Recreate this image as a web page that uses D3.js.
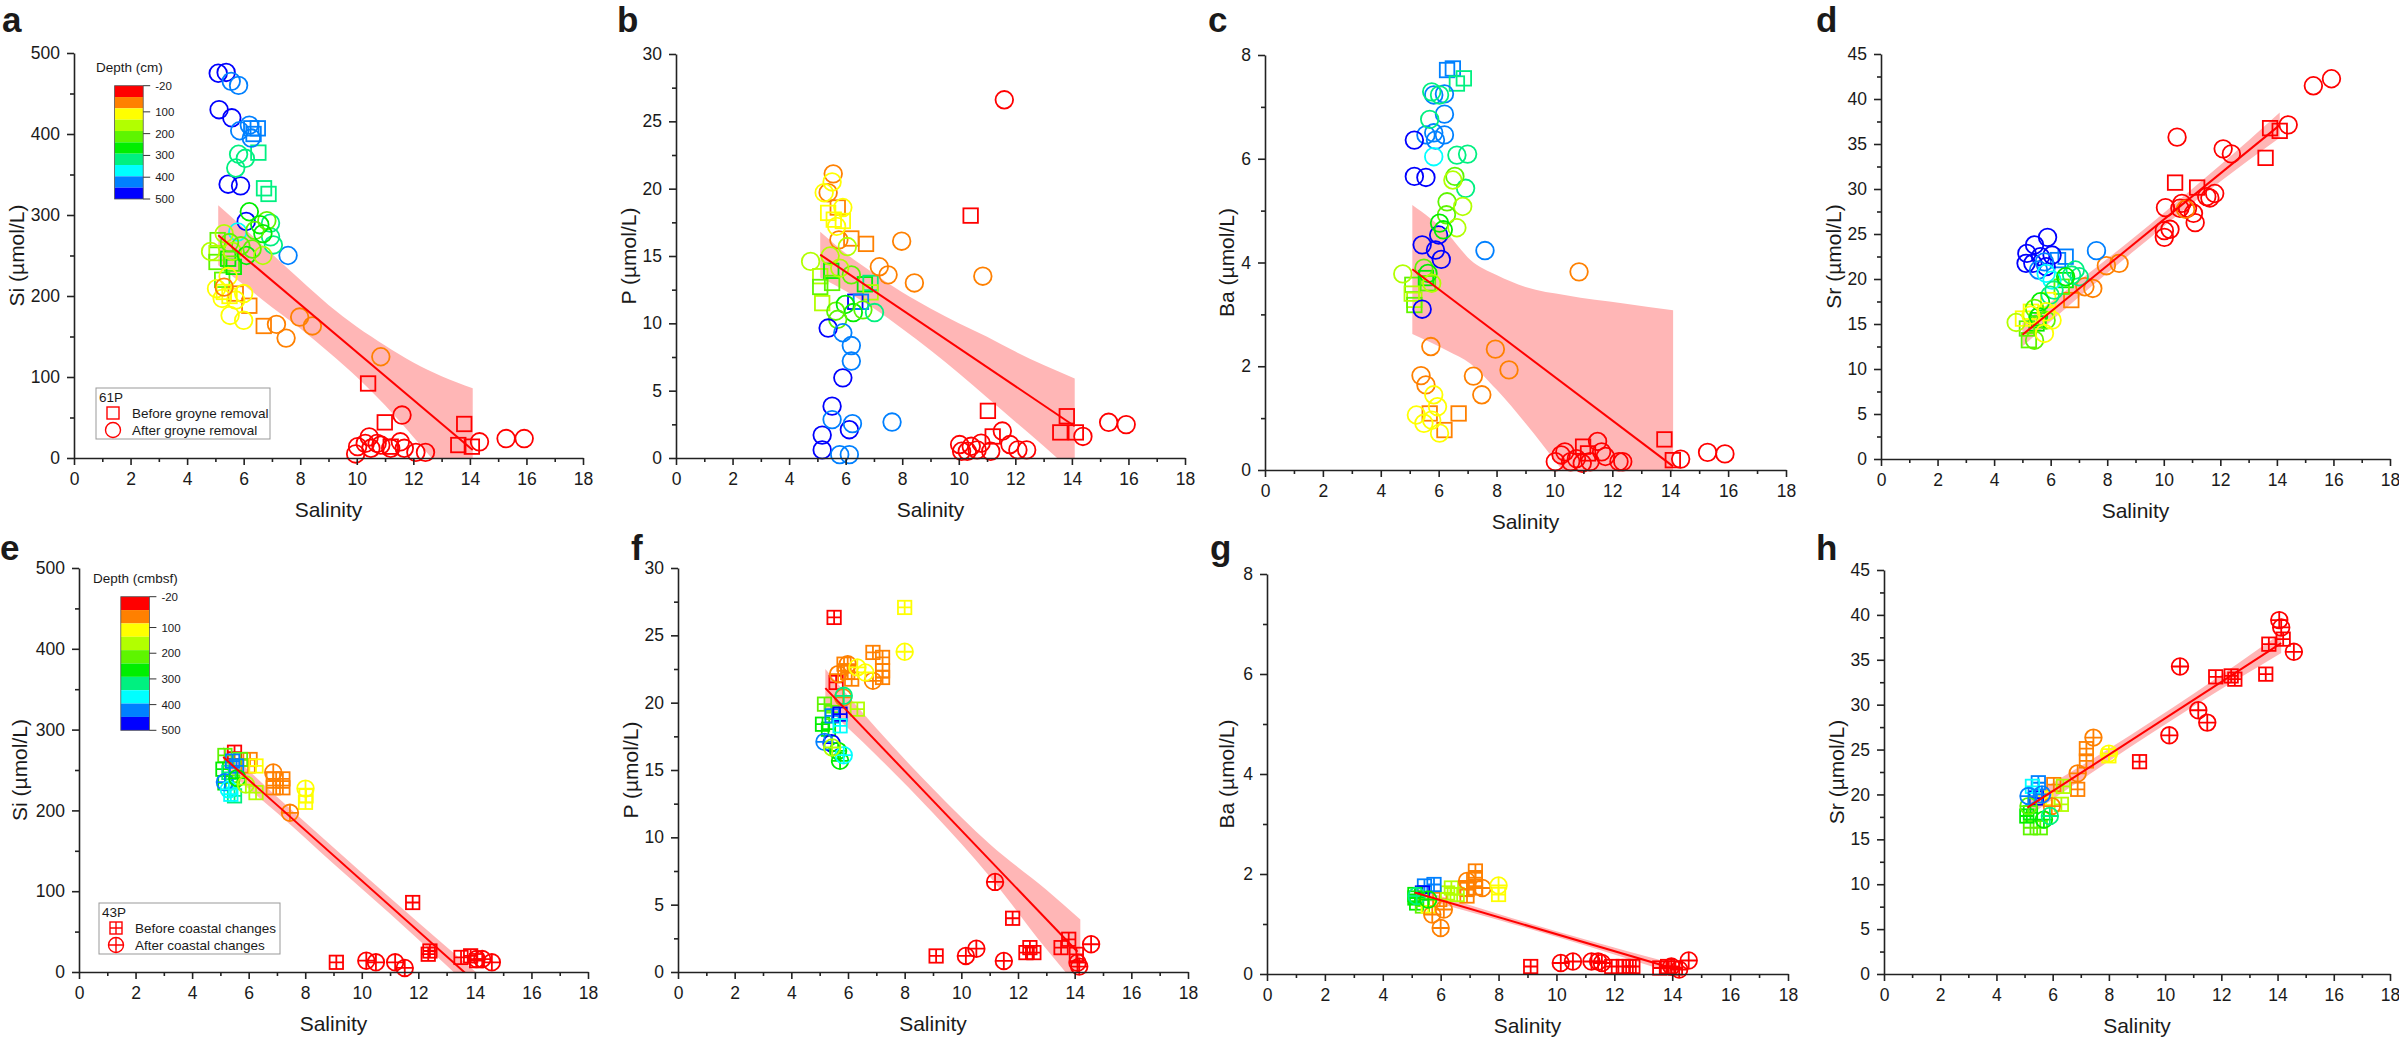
<!DOCTYPE html>
<html>
<head>
<meta charset="utf-8">
<script src="https://cdn.jsdelivr.net/npm/d3@7"></script>
<style>
  body { margin: 0; background: #fff; }
  svg text { font-family: "Liberation Sans", Arial, sans-serif; fill: #1a1a1a; }
</style>
</head>
<body>
<div id="chart"></div>
<script>
// ---- shared scales / ticks ----
var salinityTicks = [0, 2, 4, 6, 8, 10, 12, 14, 16, 18];
var depthTicks = [-20, 100, 200, 300, 400, 500];
var depthBreaks = [32, 84, 136, 188, 240, 292, 344, 396, 448];
var depthColors = ["#ff0000", "#ff8000", "#ffff00", "#b2ff00", "#5ef500", "#00ee00", "#00f080", "#00ffff", "#0080ff", "#0000ff"];

// ---- core 61P : [salinity, value, depth (cm)] ----
var siBefore61P = [
  [6.27,407,425],[6.5,407,425],[6.35,400,425],[6.52,377,325],[6.72,333,325],[6.88,326,325],
  [5.08,269,225],[5.04,253,175],[5.04,242,225],[5.45,246,275],[5.58,240,225],[5.24,220,225],[5.65,236,275],
  [5.72,203,70],[6.2,188,70],[6.71,163,70],[5.5,200,125],[5.3,205,125],
  [10.4,92,10],[10.99,44,10],[13.8,42,10],[13.59,16,10],[14.07,14,10],[11.2,14,10]
];
var siAfter61P = [
  [5.1,475,475],[5.38,476,475],[5.13,430,475],[5.58,420,475],[5.45,338,475],[5.89,336,475],[6.09,292,475],
  [5.56,465,425],[5.82,460,425],[5.86,404,425],[6.2,411,425],[6.27,395,425],[7.57,250,425],[5.79,279,375],
  [5.82,375,325],[6.06,370,325],[5.72,358,325],[6.95,290,325],[6.95,273,325],[7.05,263,325],
  [6.2,304,275],[6.82,293,225],[6.57,288,275],[6.4,281,225],[6.68,277,275],
  [4.83,255,175],[5.31,277,175],[5.9,262,225],[5.6,255,175],[6.1,250,275],[6.68,250,175],[5.5,266,225],[6.3,258,225],
  [5.45,224,125],[5.04,209,125],[5.24,197,125],[5.52,176,125],[6.0,170,125],[5.72,195,125],[6.0,203,125],
  [5.31,211,70],[7.16,165,70],[7.5,148,70],[7.98,174,70],[8.43,163,70],[10.85,125,70],
  [11.6,53,10],[14.34,20,10],[15.28,24,10],[15.92,24,10],[10.03,14,10],[10.3,18,10],[10.44,26,10],[10.72,18,10],
  [10.85,16,10],[11.2,12,10],[11.54,20,10],[11.68,12,10],[12.09,7,10],[12.43,7,10],[9.96,5,10],[10.5,12,10]
];
var pBefore61P = [
  [10.42,18.0,10],[11.03,3.5,10],[13.82,3.1,10],[13.59,1.9,10],[14.14,1.9,10],[11.2,1.6,10],
  [5.72,18.6,70],[6.2,16.3,70],[6.72,15.9,70],[5.38,18.2,125],[5.58,17.7,125],[5.9,17.6,125],
  [5.1,13.5,175],[5.1,12.7,225],[5.17,11.5,175],[5.49,13.9,275],[5.52,13.0,225],[6.68,12.9,275],[6.88,13.0,325],[6.88,12.3,175],
  [6.34,11.6,475],[6.54,11.6,425]
];
var pAfter61P = [
  [11.61,26.6,10],[15.3,2.65,10],[15.92,2.48,10],[14.39,1.6,10],[11.54,2.0,10],[11.81,1.0,10],[12.09,0.6,10],[12.4,0.6,10],
  [10.03,1.0,10],[10.1,0.5,10],[10.44,0.87,10],[10.79,1.1,10],[10.65,0.6,10],[11.13,0.5,10],[10.3,0.5,10],
  [7.98,16.1,70],[7.19,14.2,70],[7.5,13.6,70],[8.43,13.0,70],[10.85,13.5,70],[5.56,21.1,70],[5.38,19.7,70],[5.76,16.2,70],
  [5.24,19.7,125],[5.52,20.5,125],[5.9,18.6,125],[5.68,17.2,125],[6.06,15.7,175],[4.76,14.6,175],[5.45,15.0,175],
  [5.65,10.9,225],[5.99,11.4,275],[6.27,10.8,275],[6.61,11.0,225],[7.02,10.8,325],[5.72,10.3,225],[6.2,13.6,225],[5.79,14.1,175],
  [5.38,9.65,475],[5.17,1.7,475],[5.17,0.6,475],[5.52,3.85,475],[5.9,5.95,475],[6.13,2.1,475],
  [5.9,9.3,425],[6.2,8.35,425],[6.2,7.2,425],[5.52,2.85,425],[6.24,2.55,425],[7.64,2.67,425],[5.79,0.25,425],[6.13,0.25,425]
];
var baBefore61P = [
  [6.29,7.71,425],[6.49,7.74,425],[6.87,7.55,325],[6.63,7.45,325],
  [5.09,3.57,225],[5.16,3.28,175],[5.16,3.18,225],[5.56,3.7,275],[5.63,3.6,225],[5.07,3.4,175],
  [5.69,1.09,70],[6.69,1.09,70],[6.2,0.77,70],
  [13.8,0.59,10],[14.09,0.19,10],[10.99,0.45,10],[11.16,0.32,10]
];
var baAfter61P = [
  [5.83,7.23,425],[6.2,7.25,425],[6.2,6.86,425],[5.56,6.46,425],[5.83,6.5,425],[6.2,6.46,425],[5.89,6.36,425],[7.6,4.23,425],
  [5.83,6.04,375],[5.76,7.29,325],[6.03,7.23,325],[5.69,6.76,325],[6.63,6.07,325],[7.0,6.09,325],[6.93,5.43,325],
  [5.16,6.36,475],[5.16,5.66,475],[5.56,5.64,475],[5.43,3.1,475],[6.0,4.53,475],[5.43,4.34,475],[5.89,4.24,475],[6.09,4.06,475],
  [6.56,5.66,225],[6.49,5.59,175],[6.29,5.17,225],[6.83,5.08,175],[6.27,4.92,225],[6.03,4.76,275],[6.63,4.67,175],[6.16,4.63,275],
  [4.76,3.78,175],[5.49,3.89,225],[5.63,3.79,275],[5.76,3.6,175],
  [5.73,2.38,70],[7.96,2.33,70],[8.43,1.93,70],[5.39,1.82,70],[5.56,1.64,70],[7.2,1.81,70],[7.49,1.45,70],[10.85,3.82,70],
  [5.83,1.45,125],[5.23,1.06,125],[5.49,0.9,125],[5.96,1.22,125],[6.03,0.71,125],[5.76,0.96,125],
  [11.49,0.55,10],[11.63,0.35,10],[11.76,0.26,10],[12.23,0.16,10],[12.36,0.16,10],[14.36,0.21,10],[15.29,0.34,10],[15.89,0.31,10],
  [10.03,0.16,10],[10.23,0.29,10],[10.36,0.35,10],[10.56,0.16,10],[10.76,0.22,10],[10.96,0.13,10],[11.23,0.16,10]
];
var srBefore61P = [
  [13.76,36.76,10],[14.1,36.46,10],[13.6,33.46,10],[10.4,30.71,10],[11.18,30.16,10],[6.73,17.66,70],
  [6.53,22.48,425],[6.26,22.1,425],[6.53,19.88,275],[6.39,19.14,225],[5.57,15.43,275],[5.5,15.06,275],[5.16,14.5,225],[5.23,13.2,225],
  [5.91,17.66,125],[5.3,16.36,125],[5.02,15.6,125]
];
var srAfter61P = [
  [15.93,42.25,10],[15.29,41.47,10],[14.4,37.13,10],[10.47,35.76,10],[12.1,34.46,10],[12.39,33.9,10],[10.06,27.93,10],[10.02,25.37,10],
  [10.22,25.52,10],[10.02,24.63,10],[10.64,28.4,10],[10.84,27.86,10],[11.05,27.3,10],[11.11,26.26,10],[11.52,29.15,10],[11.8,29.5,10],
  [11.63,29.0,10],[10.57,27.86,10],
  [7.97,21.48,70],[8.42,21.74,70],[7.21,19.14,70],[7.49,18.95,70],[10.77,27.75,70],
  [5.89,24.63,475],[5.43,23.78,475],[5.16,22.85,475],[5.13,21.74,475],[5.37,21.74,475],[5.64,22.48,475],[6.05,22.66,475],[5.84,21.37,475],
  [7.62,23.15,425],[5.57,21.0,425],[5.78,21.9,425],[5.84,20.62,375],[6.05,19.88,375],
  [6.87,21.0,325],[6.74,20.44,325],[7.01,20.25,325],[6.12,18.77,325],[5.98,18.21,325],
  [6.53,20.25,275],[5.64,17.47,275],[5.43,16.73,225],[5.57,15.8,275],[5.84,15.43,225],[4.78,15.17,175],[5.43,13.2,225],
  [5.78,13.95,125],[6.05,15.43,125],[5.84,16.36,125],[5.3,15.99,125]
];

// ---- core 43P ----
var siBefore43P = [
  [5.5,272,10],[11.8,86,10],[12.41,26,10],[12.35,22,10],[13.51,18,10],[13.85,20,10],[14.06,14,10],[9.1,12,10],
  [6.05,263,70],[6.87,239,70],[7.21,239,70],[6.87,228,70],[7.21,228,70],[5.98,255,70],
  [8.01,210,125],[8.03,218,125],[6.26,255,125],
  [5.16,268,225],[5.09,251,275],[5.43,235,225],[6.26,222,175],[5.16,234,275],[5.71,263,225],[5.5,218,325],[5.3,247,325],
  [5.43,261,425],[5.57,255,425],[5.37,220,375]
];
var siAfter43P = [
  [10.16,14,10],[10.5,12,10],[11.18,12,10],[11.52,5,10],[14.06,16,10],[14.26,16,10],[14.6,12,10],
  [6.87,247,70],[7.46,197,70],[8.01,227,125],[5.16,235,425],[5.3,226,375],[5.6,240,275],[5.9,232,175]
];
var pBefore43P = [
  [5.51,26.33,10],[11.81,3.99,10],[12.42,1.81,10],[12.56,1.44,10],[12.28,1.44,10],[13.52,1.81,10],[13.79,2.43,10],[14.06,1.31,10],
  [9.11,1.19,10],[5.58,21.5,10],[8.0,27.07,125],
  [6.88,23.73,70],[7.22,23.36,70],[7.22,22.37,70],[7.22,21.87,70],[5.86,22.86,70],[5.99,22.24,70],[6.13,21.75,70],
  [6.33,19.52,175],[5.17,19.89,225],[5.1,18.4,275],[5.44,19.27,225],[5.31,18.03,275],
  [5.44,19.02,425],[5.72,19.15,475],[5.72,18.28,375]
];
var pAfter43P = [
  [11.19,6.69,10],[10.16,1.19,10],[10.53,1.73,10],[11.5,0.82,10],[14.58,2.06,10],[14.1,0.69,10],[14.16,0.4,10],
  [8.0,23.78,125],[6.88,21.62,70],[5.65,22.12,70],[5.83,20.39,70],[5.99,22.86,70],[6.33,22.62,125],[6.61,22.24,125],
  [5.85,20.51,325],[5.42,16.99,475],[5.17,17.09,425],[5.65,16.42,275],[5.72,15.68,275],[5.85,16.1,375],[5.44,16.67,175]
];
var baBefore43P = [
  [7.2,2.06,70],[7.2,1.89,70],[7.2,1.72,70],[6.91,1.69,70],[6.91,1.56,70],[5.97,1.49,70],[8.0,1.59,125],
  [6.37,1.72,175],[6.57,1.59,175],[6.24,1.62,175],[5.44,1.76,425],[5.77,1.79,425],[5.37,1.62,475],
  [5.11,1.59,275],[5.17,1.42,275],[5.37,1.36,225],[5.11,1.52,275],[5.57,1.36,125],
  [9.11,0.15,10],[12.31,0.15,10],[12.51,0.15,10],[12.64,0.15,10],[11.91,0.15,10],[13.57,0.12,10],[13.84,0.15,10],[14.11,0.12,10]
];
var baAfter43P = [
  [6.91,1.86,70],[7.44,1.72,70],[6.0,0.92,70],[5.71,1.19,70],[6.11,1.29,70],[8.0,1.77,125],[5.17,1.56,325],[5.57,1.49,275],
  [10.15,0.22,10],[10.57,0.25,10],[11.21,0.25,10],[11.57,0.22,10],[11.44,0.25,10],[14.57,0.27,10],[13.97,0.15,10],[14.24,0.09,10]
];
var srBefore43P = [
  [13.69,36.74,10],[14.2,37.3,10],[11.8,33.1,10],[12.35,33.2,10],[12.48,32.84,10],[13.58,33.4,10],[9.09,23.65,10],
  [7.2,25.1,70],[7.2,23.73,70],[6.89,20.57,70],[6.04,21.1,70],[8.0,24.3,125],[5.76,19.6,125],
  [6.38,20.9,175],[6.31,18.9,175],[5.21,16.29,225],[5.56,16.29,225],[5.21,17.96,275],[5.08,17.6,275],
  [5.49,21.3,425],[5.42,19.6,475],[5.28,20.9,375]
];
var srAfter43P = [
  [14.06,39.42,10],[14.13,38.6,10],[14.58,35.89,10],[10.53,34.25,10],[11.18,29.38,10],[11.5,28.0,10],[10.15,26.59,10],
  [7.45,26.33,70],[6.89,22.35,70],[5.97,18.7,70],[8.0,24.55,125],[5.69,17.2,275],[5.14,18.7,225],
  [5.14,19.82,425],[5.62,20.0,425],[5.9,17.6,325]
];

// ---- regression lines and 95% bands ----
var siLine61P = [[5.1,275],[14.1,10]];
var siFitX61P = [5.1,6,7,8,9,10,11,12,13,14.1];
var siFitHi61P = [312,284,252,220,189,162,139,118,101,86];
var siFitLo61P = [238,214,186,160,131,100,65,26,-15,-66];
var pLine61P = [[5.1,15.1],[14.1,2.36]];
var pFitX61P = [5.1,6,7,8,9,10,11,12,13,14.1];
var pFitHi61P = [16.8,15.2,13.7,12.3,11.1,10.0,9.0,7.9,6.9,5.9];
var pFitLo61P = [13.4,12.4,11.1,9.6,8.0,6.3,4.5,2.7,0.9,-1.2];
var baLine61P = [[5.09,3.87],[14.1,0.07]];
var baFitX61P = [5.09,6.3,7.1,8,9,10.4,12.4,14.1];
var baFitHi61P = [5.11,4.56,4.05,3.76,3.53,3.37,3.21,3.08];
var baFitLo61P = [2.62,2.3,2.05,1.55,0.9,-0.1,-1.6,-2.95];
var srLine61P = [[5.0,13.8],[14.1,37.1]];
var srFitX61P = [5.0,7,9,11,13,14.1];
var srFitHi61P = [15.1,19.8,24.75,30.0,35.4,38.5];
var srFitLo61P = [12.5,18.0,23.25,28.4,33.2,35.7];

var siLine43P = [[5.1,266],[14.1,-15]];
var siFitX43P = [5.1,7,9,11,13,14.1];
var siFitHi43P = [279,217,154,92,31,-2];
var siFitLo43P = [253,197,134,72,8,-28];
var pLine43P = [[5.2,21.08],[14.1,1.5]];
var pFitX43P = [5.2,7,9,11,13,14.2];
var pFitHi43P = [22.5,18.1,13.6,9.5,6.1,3.9];
var pFitLo43P = [19.7,16.1,11.8,7.1,1.7,-1.3];
var baLine43P = [[5.1,1.63],[14.1,0.1]];
var baFitX43P = [5.1,8,11,14.1];
var baFitHi43P = [1.72,1.2,0.69,0.2];
var baFitLo43P = [1.54,1.08,0.57,0.0];
var srLine43P = [[5.1,18.54],[14.13,36.85]];
var srFitX43P = [5.1,8,11,14.13];
var srFitHi43P = [19.6,25.1,31.2,37.95];
var srFitLo43P = [17.5,23.7,29.8,35.75];

var legend61P = ["61P", "Before groyne removal", "After groyne removal"];
var legend43P = ["43P", "Before coastal changes", "After coastal changes"];

// ---- panel layout ----
var panels = [
  {letter: "a", title: "Si (µmol/L)", yMax: 500, yStep: 100, crossed: false,
   before: siBefore61P, after: siAfter61P, line: siLine61P, fitX: siFitX61P, fitLo: siFitLo61P, fitHi: siFitHi61P,
   left: 74, right: 583, top: 53, bottom: 458, letterX: 2, letterY: 32, titleGap: 57,
   colorbar: {x: 114.6, y: 85.7, w: 28.6, h: 113.3, title: "Depth (cm)", tx: 96, ty: 72},
   legend: {x: 96, y: 388, w: 174, h: 51, text: legend61P}},
  {letter: "b", title: "P (µmol/L)", yMax: 30, yStep: 5, crossed: false,
   before: pBefore61P, after: pAfter61P, line: pLine61P, fitX: pFitX61P, fitLo: pFitLo61P, fitHi: pFitHi61P,
   left: 676, right: 1185, top: 54, bottom: 458, letterX: 617, letterY: 32, titleGap: 47},
  {letter: "c", title: "Ba (µmol/L)", yMax: 8, yStep: 2, crossed: false,
   before: baBefore61P, after: baAfter61P, line: baLine61P, fitX: baFitX61P, fitLo: baFitLo61P, fitHi: baFitHi61P,
   left: 1265, right: 1786, top: 55, bottom: 470, letterX: 1208, letterY: 32, titleGap: 38},
  {letter: "d", title: "Sr (µmol/L)", yMax: 45, yStep: 5, crossed: false,
   before: srBefore61P, after: srAfter61P, line: srLine61P, fitX: srFitX61P, fitLo: srFitLo61P, fitHi: srFitHi61P,
   left: 1881, right: 2390, top: 54, bottom: 459, letterX: 1816, letterY: 32, titleGap: 47},
  {letter: "e", title: "Si (µmol/L)", yMax: 500, yStep: 100, crossed: true,
   before: siBefore43P, after: siAfter43P, line: siLine43P, fitX: siFitX43P, fitLo: siFitLo43P, fitHi: siFitHi43P,
   left: 79, right: 588, top: 568, bottom: 972, letterX: 0, letterY: 560, titleGap: 59,
   colorbar: {x: 120.8, y: 596.7, w: 28.6, h: 133.6, title: "Depth (cmbsf)", tx: 93, ty: 583},
   legend: {x: 99, y: 903, w: 181, h: 51, text: legend43P}},
  {letter: "f", title: "P (µmol/L)", yMax: 30, yStep: 5, crossed: true,
   before: pBefore43P, after: pAfter43P, line: pLine43P, fitX: pFitX43P, fitLo: pFitLo43P, fitHi: pFitHi43P,
   left: 678, right: 1188, top: 568, bottom: 972, letterX: 631, letterY: 560, titleGap: 47},
  {letter: "g", title: "Ba (µmol/L)", yMax: 8, yStep: 2, crossed: true,
   before: baBefore43P, after: baAfter43P, line: baLine43P, fitX: baFitX43P, fitLo: baFitLo43P, fitHi: baFitHi43P,
   left: 1267, right: 1788, top: 574, bottom: 974, letterX: 1210, letterY: 560, titleGap: 40},
  {letter: "h", title: "Sr (µmol/L)", yMax: 45, yStep: 5, crossed: true,
   before: srBefore43P, after: srAfter43P, line: srLine43P, fitX: srFitX43P, fitLo: srFitLo43P, fitHi: srFitHi43P,
   left: 1884, right: 2390, top: 570, bottom: 974, letterX: 1816, letterY: 560, titleGap: 47}
];

var depthColor = d3.scaleThreshold().domain(depthBreaks).range(depthColors);

var svg = d3.select("#chart").append("svg")
    .attr("width", 2399)
    .attr("height", 1051);

svg.append("rect").attr("width", 2399).attr("height", 1051).attr("fill", "#fff");

// hollow marker, optionally with a cross inside
function drawMarker(g, shape, crossed, size, color, width) {
    if (shape === "square") {
        g.append("rect")
            .attr("x", -size / 2).attr("y", -size / 2)
            .attr("width", size).attr("height", size);
    } else {
        g.append("circle").attr("r", size / 2);
    }
    if (crossed) {
        g.append("path")
            .attr("d", "M" + (-size / 2) + ",0H" + (size / 2) + "M0," + (-size / 2) + "V" + (size / 2));
    }
    g.selectAll("*")
        .attr("fill", "none")
        .attr("stroke", color)
        .attr("stroke-width", width);
}

function drawPanel(p, idx) {
    var x = d3.scaleLinear().domain([0, 18]).range([p.left, p.right]);
    var y = d3.scaleLinear().domain([0, p.yMax]).range([p.bottom, p.top]);
    var g = svg.append("g").attr("class", "panel-" + p.letter);

    // clip for fit band / line
    svg.append("clipPath").attr("id", "clip" + idx)
        .append("rect")
        .attr("x", p.left).attr("y", p.top)
        .attr("width", p.right - p.left).attr("height", p.bottom - p.top);

    var band = d3.area()
        .x(function(d) { return x(d[0]); })
        .y0(function(d) { return y(d[1]); })
        .y1(function(d) { return y(d[2]); })
        .curve(d3.curveMonotoneX);

    g.append("path")
        .datum(d3.zip(p.fitX, p.fitLo, p.fitHi))
        .attr("clip-path", "url(#clip" + idx + ")")
        .attr("d", band)
        .attr("fill", "#ffb6b6");

    // markers
    var sqSize = p.crossed ? 13.4 : 14.5;
    var ciSize = p.crossed ? 16.6 : 17.6;

    g.selectAll("g.before")
        .data(p.before)
        .enter().append("g")
        .attr("class", "before")
        .attr("transform", function(d) { return "translate(" + x(d[0]) + "," + y(d[1]) + ")"; })
        .each(function(d) { drawMarker(d3.select(this), "square", p.crossed, sqSize, depthColor(d[2]), 1.8); });

    g.selectAll("g.after")
        .data(p.after)
        .enter().append("g")
        .attr("class", "after")
        .attr("transform", function(d) { return "translate(" + x(d[0]) + "," + y(d[1]) + ")"; })
        .each(function(d) { drawMarker(d3.select(this), "circle", p.crossed, ciSize, depthColor(d[2]), 1.8); });

    // regression line
    g.append("path")
        .datum(p.line)
        .attr("clip-path", "url(#clip" + idx + ")")
        .attr("d", d3.line().x(function(d) { return x(d[0]); }).y(function(d) { return y(d[1]); }))
        .attr("stroke", "#ff0000")
        .attr("stroke-width", 2)
        .attr("fill", "none");

    // axes
    var yMajor = d3.range(0, p.yMax + 0.001, p.yStep);
    var yMinor = d3.range(p.yStep / 2, p.yMax, p.yStep);
    var xMinor = [1, 3, 5, 7, 9, 11, 13, 15, 17];

    g.append("g")
        .attr("transform", "translate(0," + p.bottom + ")")
        .call(d3.axisBottom(x).tickValues(salinityTicks).tickSize(7).tickSizeOuter(0).tickPadding(8).tickFormat(d3.format("d")));
    g.append("g")
        .attr("transform", "translate(0," + p.bottom + ")")
        .call(d3.axisBottom(x).tickValues(xMinor).tickSize(4).tickSizeOuter(0).tickFormat(""))
        .select(".domain").remove();

    g.append("g")
        .attr("transform", "translate(" + p.left + ",0)")
        .call(d3.axisLeft(y).tickValues(yMajor).tickSize(7).tickSizeOuter(0).tickPadding(7).tickFormat(d3.format("d")));
    g.append("g")
        .attr("transform", "translate(" + p.left + ",0)")
        .call(d3.axisLeft(y).tickValues(yMinor).tickSize(4).tickSizeOuter(0).tickFormat(""))
        .select(".domain").remove();

    g.selectAll(".domain, .tick line").attr("stroke", "#222").attr("stroke-width", 1.6);
    g.selectAll(".tick text").attr("font-size", "17.5px").attr("fill", "#1a1a1a")
        .attr("font-family", "'Liberation Sans', Arial, sans-serif");

    // titles
    g.append("text")
        .attr("x", (p.left + p.right) / 2)
        .attr("y", p.bottom + 59)
        .attr("text-anchor", "middle")
        .attr("font-size", "21px")
        .text("Salinity");

    g.append("text")
        .attr("transform", "translate(" + (p.left - p.titleGap) + "," + ((p.top + p.bottom) / 2) + ") rotate(-90)")
        .attr("dy", "0.35em")
        .attr("text-anchor", "middle")
        .attr("font-size", "21px")
        .text(p.title);

    g.append("text")
        .attr("x", p.letterX)
        .attr("y", p.letterY)
        .attr("font-size", "35px")
        .attr("font-weight", "bold")
        .attr("fill", "#000")
        .text(p.letter);

    if (p.colorbar) drawColorbar(g, p.colorbar);
    if (p.legend) drawLegend(g, p.legend, p.crossed);
}

function drawColorbar(g, cb) {
    var cy = d3.scaleLinear().domain([-20, 500]).range([cb.y, cb.y + cb.h]);
    var edges = [-20].concat(depthBreaks).concat([500]);

    g.append("text")
        .attr("x", cb.tx).attr("y", cb.ty)
        .attr("font-size", "13.5px")
        .text(cb.title);

    g.selectAll("rect.cbar")
        .data(depthColors)
        .enter().append("rect")
        .attr("class", "cbar")
        .attr("x", cb.x)
        .attr("y", function(d, i) { return cy(edges[i]); })
        .attr("width", cb.w)
        .attr("height", function(d, i) { return cy(edges[i + 1]) - cy(edges[i]); })
        .attr("fill", function(d) { return d; });

    g.append("rect")
        .attr("x", cb.x).attr("y", cb.y).attr("width", cb.w).attr("height", cb.h)
        .attr("fill", "none").attr("stroke", "#555").attr("stroke-width", 0.8);

    g.selectAll("line.cbtick")
        .data(depthTicks)
        .enter().append("line")
        .attr("class", "cbtick")
        .attr("x1", cb.x + cb.w).attr("x2", cb.x + cb.w + 7)
        .attr("y1", function(d) { return cy(d); })
        .attr("y2", function(d) { return cy(d); })
        .attr("stroke", "#333").attr("stroke-width", 1);

    g.selectAll("text.cblabel")
        .data(depthTicks)
        .enter().append("text")
        .attr("class", "cblabel")
        .attr("x", cb.x + cb.w + 12)
        .attr("y", function(d) { return cy(d); })
        .attr("dy", "0.35em")
        .attr("font-size", "11.5px")
        .text(function(d) { return d; });
}

function drawLegend(g, lg, crossed) {
    g.append("rect")
        .attr("x", lg.x).attr("y", lg.y).attr("width", lg.w).attr("height", lg.h)
        .attr("fill", "#fff").attr("stroke", "#999").attr("stroke-width", 1);

    g.append("text")
        .attr("x", lg.x + 3).attr("y", lg.y + 14)
        .attr("font-size", "13.5px")
        .text(lg.text[0]);

    var rows = [{shape: "square", label: lg.text[1], dy: 25}, {shape: "circle", label: lg.text[2], dy: 42}];
    rows.forEach(function(r) {
        var m = g.append("g").attr("transform", "translate(" + (lg.x + 17) + "," + (lg.y + r.dy) + ")");
        drawMarker(m, r.shape, crossed, r.shape === "square" ? 12 : 15, "#ff0000", 1.4);
        g.append("text")
            .attr("x", lg.x + 36).attr("y", lg.y + r.dy)
            .attr("dy", "0.35em")
            .attr("font-size", "13.5px")
            .text(r.label);
    });
}

panels.forEach(drawPanel);
</script>
</body>
</html>
